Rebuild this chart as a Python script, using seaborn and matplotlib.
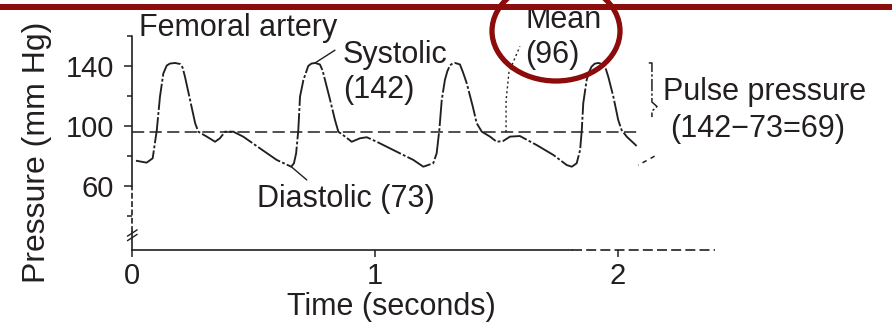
import matplotlib
matplotlib.use("Agg")
import matplotlib.pyplot as plt
from matplotlib.lines import Line2D
from matplotlib.patches import Ellipse
import pandas as pd
import seaborn as sns

# Femoral artery pressure trace: time in seconds, pressure in mm Hg
time_s = [0.015, 0.059, 0.084, 0.101, 0.114, 0.128, 0.142, 0.155, 0.176, 0.197,
          0.207, 0.217, 0.238, 0.259, 0.272, 0.307, 0.341, 0.361, 0.382, 0.416,
          0.457, 0.526, 0.595, 0.655, 0.666, 0.675, 0.684, 0.691, 0.705, 0.725,
          0.738, 0.753, 0.773, 0.784, 0.794, 0.815, 0.835, 0.849, 0.877, 0.904,
          0.938, 0.966, 1.007, 1.089, 1.158, 1.199, 1.240, 1.254, 1.265, 1.275,
          1.288, 1.298, 1.309, 1.320, 1.330, 1.350, 1.362, 1.378, 1.403, 1.419,
          1.440, 1.474, 1.501, 1.528, 1.556, 1.597, 1.666, 1.735, 1.790, 1.811,
          1.831, 1.845, 1.852, 1.858, 1.872, 1.882, 1.892, 1.905, 1.920, 1.941,
          1.951, 1.961, 1.982, 2.002, 2.016, 2.037, 2.078]
pressure_mmhg = [77.0, 75.7, 78.6, 97.4, 119.6, 135.1, 140.3, 141.6, 142.0, 141.3,
                 139.0, 132.9, 117.4, 101.9, 96.3, 93.0, 89.6, 91.9, 96.3, 96.3,
                 93.0, 85.2, 77.5, 73.0, 75.3, 81.9, 97.4, 119.6, 130.7, 140.0,
                 141.6, 142.0, 141.0, 137.0, 130.7, 117.4, 104.1, 96.3, 93.0, 89.6,
                 91.9, 92.6, 89.6, 83.0, 77.5, 73.0, 75.3, 81.9, 97.4, 117.4,
                 130.7, 136.5, 140.4, 141.7, 142.0, 141.0, 136.0, 128.5, 112.9, 101.9,
                 96.3, 93.0, 89.6, 90.1, 93.0, 93.4, 87.4, 80.8, 74.1, 73.0,
                 75.3, 84.1, 97.4, 115.2, 130.7, 136.0, 139.5, 141.5, 142.0, 141.2,
                 138.0, 132.9, 119.6, 104.1, 97.4, 93.0, 86.8]

systolic = 142
diastolic = 73
mean_pressure = 96
pulse_pressure = systolic - diastolic

y_major_ticks = [60, 100, 140]
y_minor_ticks = [40, 80, 120, 160]
x_ticks = [0, 1, 2]

ink = "#231f20"
accent = "#8c0b0b"

sns.set_theme(style="white")
plt.rcParams["font.family"] = ["Liberation Sans", "DejaVu Sans"]

W, H = 892, 327
fig = plt.figure(figsize=(W / 100, H / 100), dpi=100)
ax = fig.add_axes([132.3 / W, 1 - 250 / H, 582.5 / W, (250 - 35.9) / H])
y_bottom = 17.6
ax.set_xlim(0, 2.4)
ax.set_ylim(y_bottom, 160)

trace = pd.DataFrame({"Time (seconds)": time_s, "Pressure (mm Hg)": pressure_mmhg})
sns.lineplot(data=trace, x="Time (seconds)", y="Pressure (mm Hg)", sort=False,
             estimator=None, color=ink, linewidth=1.35, ax=ax)
ax.lines[-1].set_linestyle((0, (14, 1.2, 1.5, 1.2)))
ax.lines[-1].set_solid_joinstyle("round")
ax.lines[-1].set_dash_joinstyle("round")

# mean pressure reference line
ax.hlines(mean_pressure, 0, 2.093, colors=ink, linewidth=1.1,
          linestyles=(0, (8, 3.5)), clip_on=False)

# axes: solid bottom spine then a dashed run, broken left axis
for side in ("top", "right", "left"):
    ax.spines[side].set_visible(False)
ax.spines["bottom"].set_bounds(0, 1.81)
ax.spines["bottom"].set_color(ink)
ax.spines["bottom"].set_linewidth(1.2)
ax.plot([1.81, 2.4], [y_bottom, y_bottom], color=ink, lw=1.2,
        ls=(0, (6, 2.5)), clip_on=False)
ax.plot([0, 0], [60, 160], color=ink, lw=1.2, clip_on=False)
ax.plot([0, 0], [29.5, 60], color=ink, lw=1.2, ls=(0, (3.5, 1.5)), clip_on=False)
ax.plot([0, 0], [y_bottom, 29.5], color=ink, lw=1.2, clip_on=False)
for yb in (23.8, 26.8):
    ax.plot([-0.02, 0.02], [yb, yb + 4.2], color=ink, lw=1.0, clip_on=False)

ax.set_xticks(x_ticks)
ax.set_xticklabels([str(v) for v in x_ticks])
ax.set_yticks(y_major_ticks)
ax.set_yticklabels([str(v) for v in y_major_ticks])
ax.set_yticks(y_minor_ticks, minor=True)
ax.tick_params(axis="x", which="major", direction="out", length=5, width=1.1,
               pad=3.5, labelsize=21, colors=ink, bottom=True)
ax.tick_params(axis="y", which="major", direction="out", length=6, width=1.1,
               pad=7, labelsize=21, colors=ink, left=True)
ax.tick_params(axis="y", which="minor", direction="out", length=3.5, width=1.1,
               colors=ink, left=True)
ax.grid(False)

ax.set_xlabel("Time (seconds)", fontsize=22, color=ink)
ax.xaxis.set_label_coords(0.445, -0.198)
ax.set_ylabel("Pressure (mm Hg)", fontsize=23, color=ink)
ax.yaxis.label.set(rotation_mode="default", ha="center", va="center")
ax.yaxis.set_label_coords(-0.1636, 0.458)

# annotations
fs = 22
ax.text(0.029, 159.9, "Femoral artery", fontsize=fs, color=ink,
        ha="left", va="baseline", clip_on=False)
ax.text(0.868, 141.8, "Systolic", fontsize=fs, color=ink, ha="left", va="baseline")
ax.text(0.868, 118.5, f"({systolic})", fontsize=fs, color=ink, ha="left", va="baseline")
ax.plot([0.753, 0.835], [systolic, 150.5], color=ink, lw=1.0)

ax.text(0.513, 46.4, f"Diastolic ({diastolic})", fontsize=fs, color=ink,
        ha="left", va="baseline")
ax.plot([0.655, 0.719], [diastolic, 64.2], color=ink, lw=1.0)

ax.text(1.618, 165.0, "Mean", fontsize=fs, color=ink, ha="left", va="baseline",
        clip_on=False)
ax.text(1.618, 141.8, f"({mean_pressure})", fontsize=fs, color=ink, ha="left",
        va="baseline")
ax.plot([1.540, 1.540, 1.552, 1.597], [mean_pressure, 117, 136, 153],
        color=ink, lw=1.0, ls=(0, (1.5, 2.0)))

# pulse pressure bracket
ax.plot([2.128, 2.141, 2.141, 2.162, 2.141, 2.141],
        [systolic, systolic, 116, 113, 110, 106], color=ink, lw=1.1,
        ls=(0, (8, 1.5, 1.5, 1.5)), clip_on=False)
ax.plot([2.152, 2.084], [80, diastolic + 1], color=ink, lw=1.1,
        ls=(0, (3, 3)), clip_on=False)
ax.text(2.186, 117.4, "Pulse pressure", fontsize=fs, color=ink, ha="left",
        va="baseline", clip_on=False)
ax.text(2.215, 93.0, f"({systolic}\u2212{diastolic}={pulse_pressure})", fontsize=fs,
        color=ink, ha="left", va="baseline", clip_on=False)

# header rule and highlight ring
fig.add_artist(Line2D([0, 1], [1 - 7 / H, 1 - 7 / H], transform=fig.transFigure,
                      color=accent, lw=4.3))
fig.add_artist(Ellipse((556 / W, 1 - 31 / H), 128 / W, 100 / H,
                       transform=fig.transFigure, fill=False,
                       edgecolor=accent, lw=3.8))

fig.savefig("out.png", dpi=100)
